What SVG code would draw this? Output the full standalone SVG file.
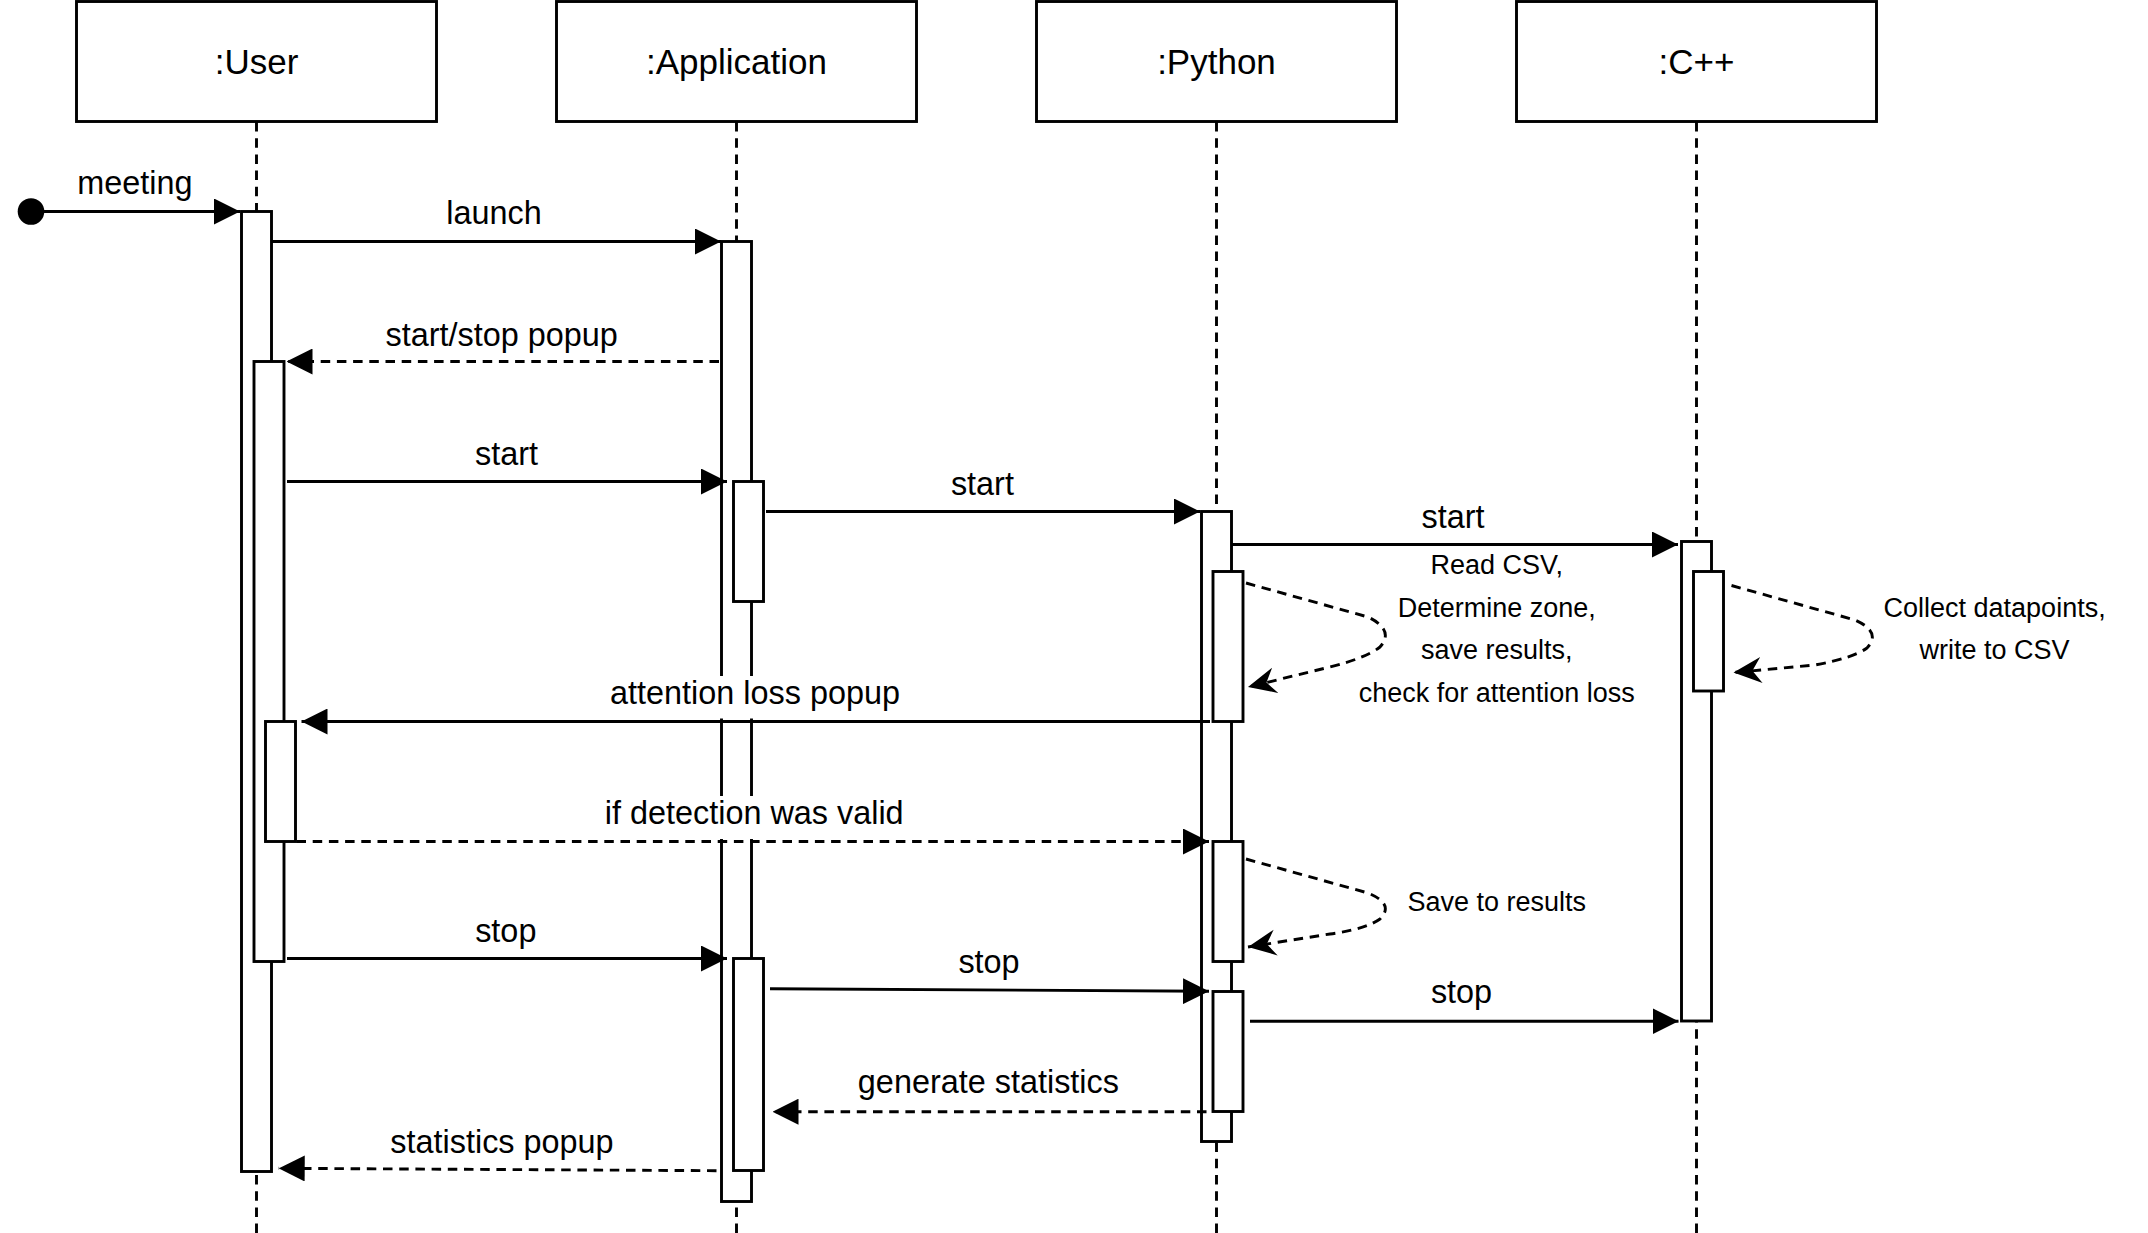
<svg xmlns="http://www.w3.org/2000/svg" width="2148" height="1233" viewBox="0 0 2148 1233">
<style>
.box{fill:#fff;stroke:#000;stroke-width:2.9}
.life{fill:none;stroke:#000;stroke-width:2.9;stroke-dasharray:9.5 6.7}
.bar{fill:#fff;stroke:#000;stroke-width:2.9}
.msg{fill:none;stroke:#000;stroke-width:2.9}
.dash{stroke-dasharray:9.5 6.7}
.t{font-family:"Liberation Sans",Arial,Helvetica,sans-serif;fill:#000;text-anchor:middle}
.tb{font-size:35px}
.tm{font-size:32.4px}
.ts{font-size:27px}
</style>
<defs>
<marker id="block" markerUnits="userSpaceOnUse" viewBox="0 0 26 26" refX="26" refY="13" markerWidth="26" markerHeight="26" orient="auto">
<path d="M0,0 L26,13 L0,26 z" fill="#000"/>
</marker>
<marker id="classic" markerUnits="userSpaceOnUse" viewBox="0 0 28 28" refX="28" refY="14" markerWidth="28" markerHeight="28" orient="auto">
<path d="M0,1 L28,14 L0,27 L9,14 z" fill="#000"/>
</marker>
</defs>
<rect width="2148" height="1233" fill="#fff"/>

<g id="lifelines">
<line class="life" x1="256.5" y1="122" x2="256.5" y2="1233"/>
<line class="life" x1="736.5" y1="122" x2="736.5" y2="1233"/>
<line class="life" x1="1216.5" y1="122" x2="1216.5" y2="1233"/>
<line class="life" x1="1696.5" y1="122" x2="1696.5" y2="1233"/>
</g>

<g id="user">
<rect class="box" x="76.5" y="1.5" width="360" height="120"/>
<text class="t tb" x="256.5" y="74">:User</text>
</g>
<g id="application">
<rect class="box" x="556.5" y="1.5" width="360" height="120"/>
<text class="t tb" x="736.5" y="74">:Application</text>
</g>
<g id="python">
<rect class="box" x="1036.5" y="1.5" width="360" height="120"/>
<text class="t tb" x="1216.5" y="74">:Python</text>
</g>
<g id="cpp">
<rect class="box" x="1516.5" y="1.5" width="360" height="120"/>
<text class="t tb" x="1696.5" y="74">:C++</text>
</g>

<g id="user-activations">
<rect class="bar" x="241.5" y="211.5" width="30" height="960"/>
<rect class="bar" x="254" y="361.5" width="30" height="600"/>
<rect class="bar" x="265.5" y="721.5" width="30" height="120"/>
</g>
<g id="application-activations">
<rect class="bar" x="721.5" y="241.5" width="30" height="960"/>
<rect class="bar" x="733.5" y="481.5" width="30" height="120"/>
<rect class="bar" x="733.5" y="958.5" width="30" height="212"/>
</g>
<g id="python-activations">
<rect class="bar" x="1201.5" y="511.5" width="30" height="630"/>
<rect class="bar" x="1213" y="571.5" width="30" height="150"/>
<rect class="bar" x="1213" y="841.5" width="30" height="120"/>
<rect class="bar" x="1213" y="991.5" width="30" height="120"/>
</g>
<g id="cpp-activations">
<rect class="bar" x="1681.5" y="541.5" width="30" height="479.5"/>
<rect class="bar" x="1693.5" y="571.5" width="30" height="119.5"/>
</g>

<g id="start-node">
<circle cx="31" cy="211.5" r="13.3" fill="#000"/>
</g>

<g id="connectors">
<line class="msg" x1="44" y1="211.5" x2="240" y2="211.5" marker-end="url(#block)"/>
<line class="msg" x1="271.5" y1="241.5" x2="721" y2="241.5" marker-end="url(#block)"/>
<line class="msg dash" x1="719" y1="361.5" x2="286.5" y2="361.5" marker-end="url(#block)"/>
<line class="msg" x1="287" y1="481.5" x2="727" y2="481.5" marker-end="url(#block)"/>
<line class="msg" x1="766" y1="511.5" x2="1200" y2="511.5" marker-end="url(#block)"/>
<line class="msg" x1="1232" y1="544.5" x2="1678" y2="544.5" marker-end="url(#block)"/>
<path class="msg dash" d="M1246,583 L1368,617 Q1395,630 1380,647 Q1366,658 1330,667 L1248,687" marker-end="url(#classic)"/>
<path class="msg dash" d="M1731.5,585.5 L1855,620 Q1882,632 1867,648 Q1853,658 1815,665 L1733.5,672.5" marker-end="url(#classic)"/>
<line class="msg" x1="1210" y1="721.5" x2="301.5" y2="721.5" marker-end="url(#block)"/>
<line class="msg dash" x1="296.5" y1="841.5" x2="1209" y2="841.5" marker-end="url(#block)"/>
<path class="msg dash" d="M1246,859 L1368,893 Q1395,904 1380,919 Q1366,929 1330,934 L1248,947" marker-end="url(#classic)"/>
<line class="msg" x1="287" y1="958.5" x2="727" y2="958.5" marker-end="url(#block)"/>
<line class="msg" x1="770" y1="988.7" x2="1209" y2="991.3" marker-end="url(#block)"/>
<line class="msg" x1="1250" y1="1021.2" x2="1678.5" y2="1021.2" marker-end="url(#block)"/>
<line class="msg dash" x1="1206.5" y1="1111.7" x2="772.5" y2="1111.7" marker-end="url(#block)"/>
<line class="msg dash" x1="716.5" y1="1170.7" x2="278.7" y2="1168.3" marker-end="url(#block)"/>
</g>

<g id="labels">
<text class="t tm" x="134.8" y="194.3">meeting</text>
<text class="t tm" x="494" y="224">launch</text>
<text class="t tm" x="501.7" y="345.5">start/stop popup</text>
<text class="t tm" x="506.5" y="465">start</text>
<text class="t tm" x="982.4" y="495">start</text>
<text class="t tm" x="1453" y="528">start</text>
<text class="t ts" x="1496.8" y="574">Read CSV,</text>
<text class="t ts" x="1496.8" y="616.5">Determine zone,</text>
<text class="t ts" x="1496.8" y="659">save results,</text>
<text class="t ts" x="1496.8" y="701.5">check for attention loss</text>
<text class="t ts" x="1994.6" y="616.5">Collect datapoints,</text>
<text class="t ts" x="1994.6" y="659">write to CSV</text>
<rect x="604" y="676" width="302" height="42.5" fill="#fff"/>
<text class="t tm" x="755" y="704">attention loss popup</text>
<rect x="600" y="796" width="308" height="43" fill="#fff"/>
<text class="t tm" x="754.2" y="824.3">if detection was valid</text>
<text class="t ts" x="1496.7" y="911">Save to results</text>
<text class="t tm" x="505.8" y="941.7">stop</text>
<text class="t tm" x="989" y="973.3">stop</text>
<text class="t tm" x="1461.5" y="1003.3">stop</text>
<text class="t tm" x="988.4" y="1093.3">generate statistics</text>
<text class="t tm" x="502" y="1153.3">statistics popup</text>
</g>
</svg>
